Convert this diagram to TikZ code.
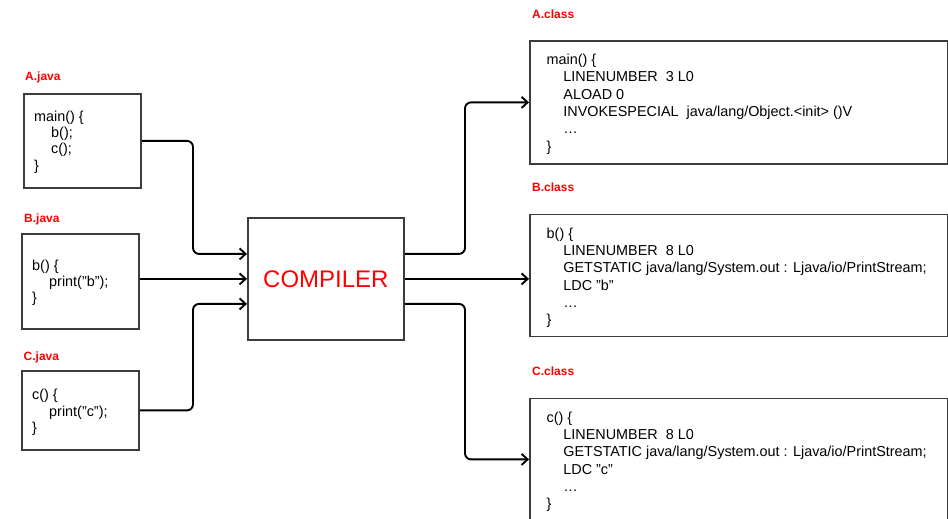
\documentclass[tikz,border=0pt]{standalone}
\usepackage{fontspec}
\setmainfont{Liberation Sans}
\usetikzlibrary{arrows.meta,calc}
\definecolor{boxgray}{HTML}{3C3C3C}
\begin{document}
\begin{tikzpicture}[x=1pt,y=-1pt,
  box/.style={draw=boxgray, line width=1.8pt, rectangle, inner sep=0pt, anchor=north west},
  conn/.style={draw=black, line width=1.9pt, rounded corners=6pt, -{Straight Barb[length=6pt,width=11pt]}},
  lbl/.style={text=red, font=\bfseries\fontsize{12}{14}\selectfont, anchor=base west, inner sep=0pt},
  code/.style={align=left, anchor=north west, inner sep=0pt, text=black},
  lcode/.style={code, font=\fontsize{14.4}{16.3}\selectfont},
  rcode/.style={code, font=\fontsize{14.4}{17.3}\selectfont}]
\useasboundingbox (0,0) rectangle (948,519);
\clip (0,0) rectangle (948,519);
\fill[white] (0,0) rectangle (948,519);

% source boxes
\node[box, minimum width=117pt, minimum height=94pt] (ajava) at (23,93) {};
\node[box, minimum width=117pt, minimum height=95pt] (bjava) at (21,233) {};
\node[box, minimum width=117pt, minimum height=79pt] (cjava) at (21,370) {};

\node[lbl] (ajavalbl) at (25,80.5) {A.java};
\node[lbl] (bjavalbl) at (24,222) {B.java};
\node[lbl] (cjavalbl) at (23.5,360.5) {C.java};

\node[lcode] (ajavatxt) at (34,110) {\rule{0pt}{11pt}main() \{\\\hspace*{17pt}b();\\\hspace*{17pt}c();\\\}};
\node[lcode] (bjavatxt) at (32,259) {\rule{0pt}{11pt}b() \{\\\hspace*{17pt}print("b");\\\}};
\node[lcode] (cjavatxt) at (32,388.5) {\rule{0pt}{11pt}c() \{\\\hspace*{17pt}print("c");\\\}};

% compiler
\node[box, minimum width=156pt, minimum height=122pt] (compiler) at (247,217) {};
\node[text=red, font=\fontsize{24}{28}\selectfont, inner sep=0pt] (compilertxt) at (compiler.center) {COMPILER};

% class boxes
\node[box, minimum width=418pt, minimum height=123pt] (aclass) at (529,40) {};
\node[box, minimum width=418pt, minimum height=122pt] (bclass) at (529,213.5) {};
\node[box, minimum width=418pt, minimum height=122pt] (cclass) at (529,397.5) {};

\node[lbl] (aclasslbl) at (532,18.5) {A.class};
\node[lbl] (bclasslbl) at (532,191.5) {B.class};
\node[lbl] (cclasslbl) at (532,375.5) {C.class};

\node[rcode] (aclasstxt) at (546.5,53.4) {\rule{0pt}{11pt}main() \{\\
\hspace*{16.7pt}LINENUMBER\ \ 3 L0\\
\hspace*{16.7pt}ALOAD 0\\
\hspace*{16.7pt}INVOKESPECIAL\ \ java/lang/Object.<init> ()V\\
\hspace*{16.7pt}…\\
\}};
\node[rcode] (bclasstxt) at (546.5,227) {\rule{0pt}{11pt}b() \{\\
\hspace*{16.7pt}LINENUMBER\ \ 8 L0\\
\hspace*{16.7pt}GETSTATIC java/lang/System.out : Ljava/io/PrintStream;\\
\hspace*{16.7pt}LDC "b"\\
\hspace*{16.7pt}…\\
\}};
\node[rcode] (cclasstxt) at (546.5,411) {\rule{0pt}{11pt}c() \{\\
\hspace*{16.7pt}LINENUMBER\ \ 8 L0\\
\hspace*{16.7pt}GETSTATIC java/lang/System.out : Ljava/io/PrintStream;\\
\hspace*{16.7pt}LDC "c"\\
\hspace*{16.7pt}…\\
\}};

% connectors in
\coordinate (inA) at ($(compiler.west)+(0,-25)$);
\coordinate (inC) at ($(compiler.west)+(0,25)$);
\coordinate (outA) at ($(compiler.east)+(0,-25)$);
\coordinate (outC) at ($(compiler.east)+(0,25)$);

\draw[conn] (ajava.east) -- (193,0 |- ajava.east) -- (193,0 |- inA) -- (inA);
\draw[conn] (bjava.east |- compiler.west) -- (compiler.west);
\draw[conn] (cjava.east) -- (193,0 |- cjava.east) -- (193,0 |- inC) -- (inC);

% connectors out
\draw[conn] (outA) -- (465,0 |- outA) -- (465,0 |- aclass.west) -- (aclass.west);
\draw[conn] (compiler.east) -- (compiler.east -| bclass.west);
\draw[conn] (outC) -- (465,0 |- outC) -- (465,0 |- cclass.west) -- (cclass.west);
\end{tikzpicture}
\end{document}
